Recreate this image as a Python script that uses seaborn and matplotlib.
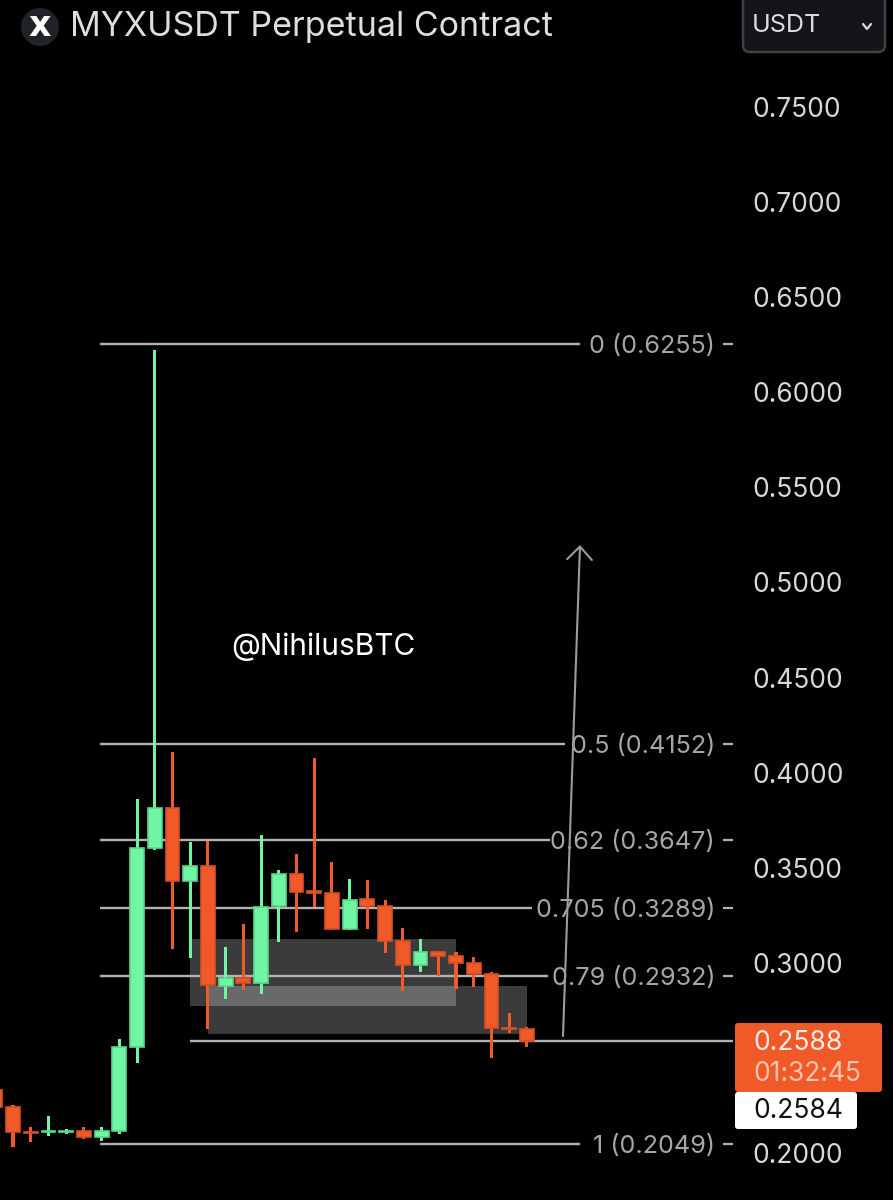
import numpy as np
import pandas as pd
import matplotlib
matplotlib.use('Agg')
import matplotlib.pyplot as plt
from matplotlib.patches import FancyBboxPatch, Circle, Rectangle
import seaborn as sns

# candles, oldest first
candle_idx = list(range(-1, 30))
opens = [.2332, .2242, .2112, .2113, .2113, .2116, .2085, .2116, .2558, .3604, .3814, .3430, .3509, .2879, .2921, .2894,
         .3299, .3467, .3376, .3368, .3178, .3336, .3299, .3115, .2989, .3057, .3036, .2999, .2942, .2658, .2652]
highs = [.2340, .2253, .2137, .2195, .2127, .2137, .2137, .2600, .3862, .6222, .4109, .3635, .3641, .3084, .3205, .3672,
         .3488, .3572, .4077, .3530, .3441, .3436, .3331, .3184, .3126, .3063, .3057, .3031, .2952, .2737, .2663]
lows = [.2242, .2032, .2058, .2090, .2100, .2074, .2064, .2100, .2474, .3594, .3073, .3026, .2652, .2810, .2858, .2837,
        .3110, .3163, .3294, .3178, .3173, .3178, .3052, .2852, .2952, .2931, .2863, .2873, .2500, .2631, .2558]
closes = [.2242, .2111, .2107, .2118, .2118, .2085, .2116, .2558, .3604, .3814, .3430, .3509, .2884, .2921, .2894, .3294,
          .3467, .3373, .3370, .3178, .3331, .3299, .3115, .2989, .3057, .3036, .2999, .2942, .2658, .2652, .2588]

# fib levels
fib_ratios = ['0', '0.5', '0.62', '0.705', '0.79', '1']
fib_prices = [0.6255, 0.4152, 0.3647, 0.3289, 0.2932, 0.2049]
fib_line_end = [580, 565, 550, 532, 548, 580]

# price axis
price_ticks = [0.75, 0.70, 0.65, 0.60, 0.55, 0.50, 0.45, 0.40, 0.35, 0.30, 0.20]

# zones: first candle, last candle, top, bottom
zones = [(10, 25, 0.3126, 0.2773), (11, 29, 0.2879, 0.2627)]

last_price = 0.2588
countdown = '01:32:45'
mark_price = 0.2584

GREEN = '#6ff5a3'
GREEN_EDGE = '#5ad68c'
RED = '#f05a28'
RED_EDGE = '#d55024'
GREY = '#b2b2b2'


def to_idx(px):
    # pixel column to candle index
    return (px - 13) / 17.72


sns.set_theme(style='dark', rc={'axes.facecolor': 'black', 'figure.facecolor': 'black'})
plt.rcParams['font.family'] = ['Inter', 'DejaVu Sans']

df = pd.DataFrame({'idx': candle_idx, 'open': opens, 'high': highs, 'low': lows, 'close': closes})
df['up'] = df['close'] > df['open']
df['body_low'] = df[['open', 'close']].min(axis=1)
df['body_h'] = (df['open'] - df['close']).abs()
df['wick_h'] = df['high'] - df['low']

fig = plt.figure(figsize=(8.93, 12), dpi=100)
ax = fig.add_axes([0, 0, 1, 1])

for top_zone in zones:
    ax.add_patch(Rectangle((top_zone[0], top_zone[3]), top_zone[1] - top_zone[0], top_zone[2] - top_zone[3],
                           facecolor='white', alpha=0.235, edgecolor='none', zorder=1))

for ratio, price, end in zip(fib_ratios, fib_prices, fib_line_end):
    ax.hlines(price, to_idx(100), to_idx(end), color=GREY, lw=1.7, zorder=2)
    ax.hlines(price, to_idx(723), to_idx(733), color=GREY, lw=1.6, zorder=2)
    ax.text(to_idx(715), price, f'{ratio} ({price:.4f})', color='#a6a6a6', fontsize=18.1,
            ha='right', va='center_baseline', zorder=5)

ax.hlines(last_price, 10, to_idx(733), color=GREY, lw=1.7, zorder=2)

for is_up, color, edge in [(True, GREEN, GREEN_EDGE), (False, RED, RED_EDGE)]:
    part = df[df['up'] == is_up]
    sns.barplot(data=part, x='idx', y='wick_h', bottom=part['low'].values, native_scale=True, width=0.17,
                color=color, saturation=1, errorbar=None, linewidth=0, ax=ax, zorder=3)
    sns.barplot(data=part, x='idx', y='body_h', bottom=part['body_low'].values, native_scale=True, width=0.78,
                color=color, saturation=1, errorbar=None, edgecolor=edge, linewidth=1.2, ax=ax, zorder=4)

ax.annotate('', xy=(to_idx(580), 0.5197), xytext=(to_idx(563), 0.2615),
            arrowprops=dict(arrowstyle='->,head_length=0.39,head_width=0.37', color='#9c9c9c', lw=1.5,
                            mutation_scale=24, shrinkA=0, shrinkB=0), zorder=5)

ax.text(to_idx(323), 0.4661, '@NihilusBTC', color='white', fontsize=21.5, ha='center', va='center')

ax.set_xlim(to_idx(0), to_idx(893))
ax.set_ylim((1533.5 - 1200) / 1902, 1533.5 / 1902)
ax.set_xticks([])
ax.yaxis.tick_right()
ax.set_yticks(price_ticks)
ax.set_yticklabels([f'{p:.4f}' for p in price_ticks])
for lab in ax.get_yticklabels():
    lab.set_horizontalalignment('left')
ax.tick_params(axis='y', length=0, pad=-101.5, labelsize=19, labelcolor='#d8d8d8')
ax.set_xlabel('')
ax.set_ylabel('')
ax.grid(False)
for s in ax.spines.values():
    s.set_visible(False)

# header and price tags, in pixels
ov = fig.add_axes([0, 0, 1, 1])
ov.set_xlim(0, 893)
ov.set_ylim(1200, 0)
ov.axis('off')
ov.patch.set_alpha(0)

ov.add_patch(Circle((40, 27), 19, facecolor='#1f2227', edgecolor='none'))
ov.text(40, 26, 'x', color='white', fontsize=25, fontweight='bold', ha='center', va='center',
        fontfamily=['DejaVu Sans'])
ov.text(70, 27, 'MYXUSDT Perpetual Contract', color='#dedede', fontsize=24.5, ha='left', va='center')

ov.add_patch(FancyBboxPatch((743, -8), 142, 60, boxstyle='round,pad=0,rounding_size=7',
                            facecolor='#141518', edgecolor='#3f4246', lw=1.8))
ov.text(752, 26, 'USDT', color='#dcdcdc', fontsize=18, ha='left', va='center')
ov.plot([863, 867, 871], [24, 29, 24], color='#dcdcdc', lw=1.6)

ov.add_patch(FancyBboxPatch((735, 1023), 147, 69, boxstyle='round,pad=0,rounding_size=3',
                            facecolor=RED, edgecolor='none'))
ov.add_patch(FancyBboxPatch((735, 1092), 122, 37, boxstyle='round,pad=0,rounding_size=3',
                            facecolor='white', edgecolor='none'))
ov.text(753, 1043, f'{last_price:.4f}', color='#fbeee8', fontsize=19, ha='left', va='center')
ov.text(753, 1074, countdown, color='#f9c4ad', fontsize=19, ha='left', va='center')
ov.text(753, 1111, f'{mark_price:.4f}', color='#111111', fontsize=19, ha='left', va='center')

fig.savefig('out.png', dpi=100, facecolor='black')
